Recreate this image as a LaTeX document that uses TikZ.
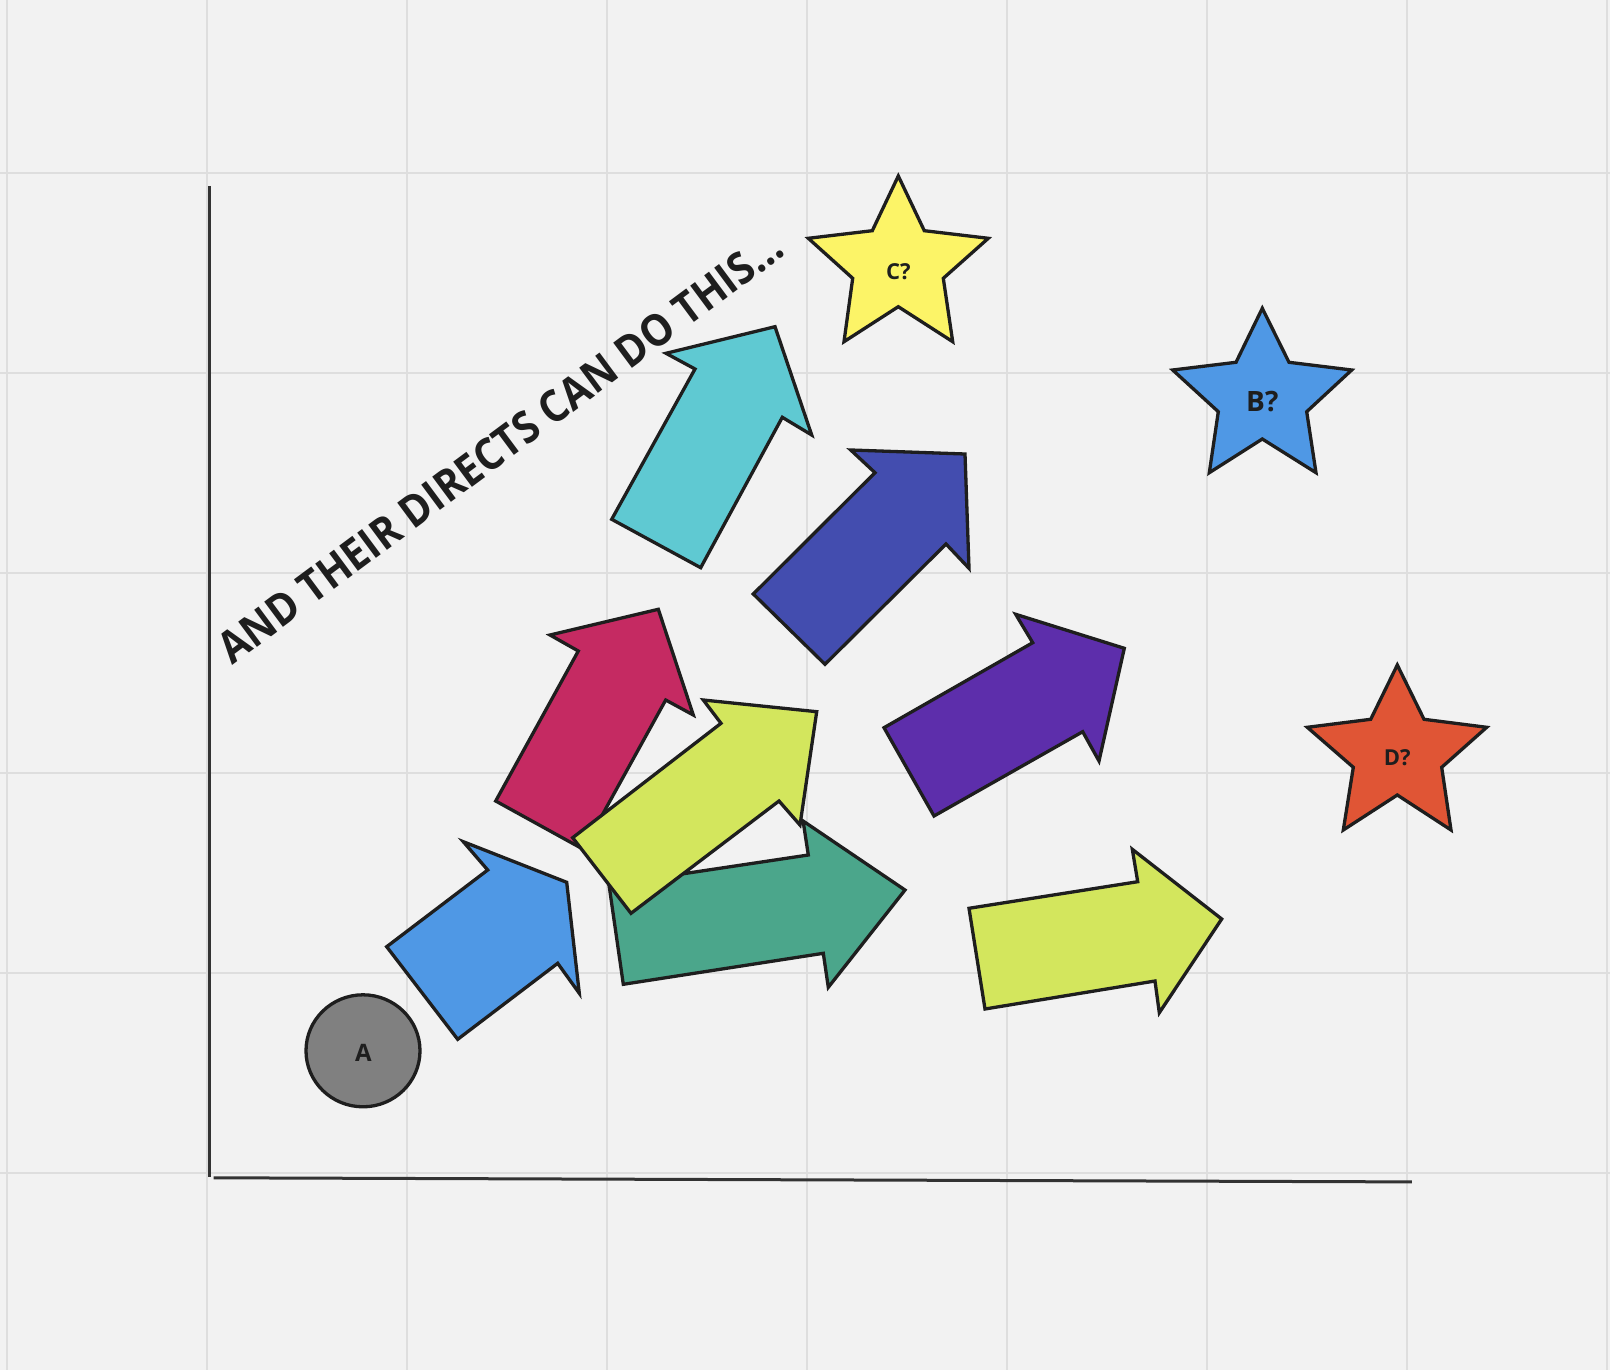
\documentclass[tikz,border=0pt]{standalone}
\usepackage{fontspec}
\usetikzlibrary{shapes.geometric}
\setmainfont{Open Sans}
\definecolor{bg}{HTML}{F2F2F2}
\definecolor{gridc}{HTML}{DEDEDE}
\definecolor{ink}{HTML}{1E1E1E}
\definecolor{axisc}{HTML}{333333}
\definecolor{cblue}{HTML}{4F98E5}
\definecolor{ccrimson}{HTML}{C52A62}
\definecolor{clime}{HTML}{D3E65D}
\definecolor{cteal}{HTML}{4BA68B}
\definecolor{ccyan}{HTML}{5FC9D2}
\definecolor{cindigo}{HTML}{434DAF}
\definecolor{cpurple}{HTML}{5D2EAB}
\definecolor{cyellow}{HTML}{FCF467}
\definecolor{cred}{HTML}{E05535}
\definecolor{cgray}{HTML}{808080}
\begin{document}
\begin{tikzpicture}[x=1pt,y=-1pt,
  shp/.style={draw=ink,line width=3.3pt,line join=miter,miter limit=10},
  gridline/.style={draw=gridc,line width=2pt},
  axisline/.style={draw=axisc,line width=3pt},
  lbl/.style={text=ink,font=\bfseries,inner sep=0pt}]
\fill[bg] (0,0) rectangle (1610,1370);
\useasboundingbox (0,0) rectangle (1610,1370);
% grid
\foreach \x in {7,207,...,1607} \draw[gridline] (\x,0) -- (\x,1370);
\foreach \y in {173,373,...,1373} \draw[gridline] (0,\y) -- (1610,\y);
% axes
\coordinate (ytop) at (209.5,186);
\coordinate (ybot) at (209.5,1177);
\coordinate (xleft) at (213.6,1177.8);
\coordinate (xright) at (1411.9,1181.9);
\draw[axisline] (ytop) -- (ybot);
\draw[axisline] (xleft) -- (xright);
% arrows
\filldraw[shp,fill=cblue] (386.7,946.7) -- (487.7,870) -- (463.3,841.7) -- (566.7,882.3) -- (579.3,993.3) -- (557.7,963.3) -- (457.7,1039.3) -- cycle;
\filldraw[shp,fill=ccyan] (611.7,519.3) -- (695,369) -- (666,353.3) -- (775,326.7) -- (811.7,435) -- (782.3,417.3) -- (700.7,567.7) -- cycle;
\filldraw[shp,fill=cindigo] (753.3,594) -- (875,472.7) -- (850.7,450) -- (965,454) -- (969,568.3) -- (946,544) -- (825,664.3) -- cycle;
\filldraw[shp,fill=cpurple] (884,727.7) -- (1032.7,642.7) -- (1015.7,614.3) -- (1124.3,648.3) -- (1099,761) -- (1082.7,731.7) -- (934,816) -- cycle;
\filldraw[shp,fill=clime] (969,908.3) -- (1137.7,881.7) -- (1132.3,849.3) -- (1221.7,919) -- (1159.3,1012.7) -- (1155,981) -- (985,1009) -- cycle;
\filldraw[shp,fill=ccrimson] (583.3,849.3) -- (495.7,801) -- (578.3,651) -- (550,635) -- (658.3,609.3) -- (693.3,715) -- (665.7,700) -- cycle;
\filldraw[shp,fill=cteal] (609,884.9) -- (808.3,855) -- (803.1,821) -- (905,890) -- (828.3,987.3) -- (823.3,953.3) -- (623.3,984.3) -- cycle;
\filldraw[shp,fill=clime] (572.7,837.7) -- (721,723.3) -- (703.3,700) -- (816.7,711.7) -- (800,825) -- (779,801) -- (631,913.3) -- cycle;
% stars
\filldraw[shp,fill=cyellow] (898.3,176) -- (924.3,230.7) -- (988.3,238.3) -- (943.3,278.3) -- (952.7,341.7) -- (898.3,306.7) -- (844,341.7) -- (852.7,278.3) -- (808.3,238.3) -- (872.3,230.7) -- cycle;
\filldraw[shp,fill=cblue] (1262.3,308.3) -- (1289,362.3) -- (1351.7,370) -- (1306.7,411.7) -- (1316,472.7) -- (1262.3,439) -- (1209.3,472.7) -- (1218.3,411.7) -- (1172.7,370) -- (1236,362.3) -- cycle;
\filldraw[shp,fill=cred] (1397.3,665) -- (1424,719.3) -- (1486.7,727.3) -- (1441.7,767.3) -- (1451,830) -- (1397.3,795) -- (1343.3,830) -- (1353.3,767.3) -- (1307.3,727.3) -- (1370.7,719.3) -- cycle;
% circle
\node[shp,fill=cgray,ellipse,minimum width=114pt,minimum height=112pt,inner sep=0pt] (a) at (363,1050.8) {};
\node[lbl,font=\bfseries\fontsize{24}{24}\selectfont] (alabel) at (363.3,1053.3) {A};
% labels
\node[lbl,font=\bfseries\fontsize{22}{22}\selectfont] (clabel) at (898.3,271.7) {C?};
\node[lbl,font=\bfseries\fontsize{28}{28}\selectfont] (blabel) at (1262.3,401.7) {B?};
\node[lbl,font=\bfseries\fontsize{22}{22}\selectfont] (dlabel) at (1397.3,757.3) {D?};
\node[lbl,font=\bfseries\fontsize{44}{44}\selectfont,rotate=36.6] (title) at (500,447) {\scalebox{0.91}[1]{AND THEIR DIRECTS CAN DO THIS...}};
\end{tikzpicture}
\end{document}
